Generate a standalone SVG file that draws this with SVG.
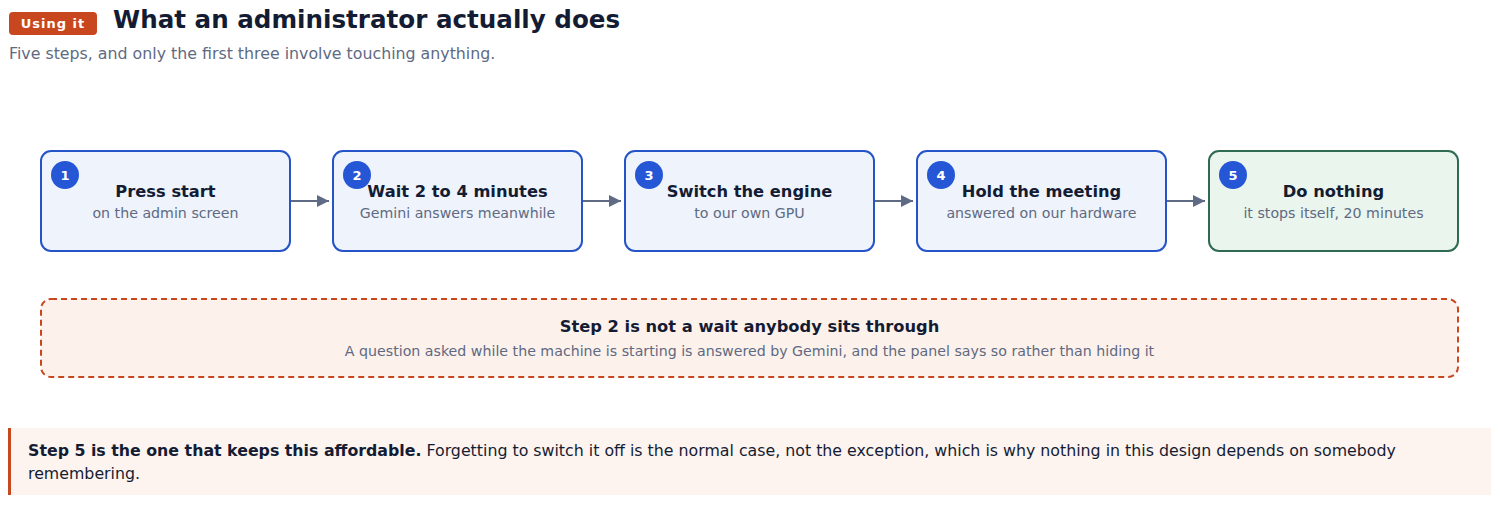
<svg xmlns="http://www.w3.org/2000/svg" width="1500" height="505" viewBox="0 0 1500 505">
<defs>
<style>
text{font-family:"DejaVu Sans","Noto Sans",sans-serif}
.step{fill:#eef3fc;stroke:#2454c8;stroke-width:2}
.done{fill:#eaf5ee;stroke:#2f6a52;stroke-width:2}
.num{fill:#2456d6}
.numt{fill:#fff;font-size:13px;font-weight:bold;text-anchor:middle}
.t{fill:#141c33;font-size:16.3px;font-weight:bold;text-anchor:middle}
.s{fill:#5e6a82;font-size:14.2px;text-anchor:middle}
.conn{stroke:#5f6b85;stroke-width:2;fill:none}
</style>
<marker id="ah" viewBox="0 0 10 10" refX="10" refY="5" markerWidth="12" markerHeight="12" markerUnits="userSpaceOnUse" orient="auto">
<path d="M0,0 L10,5 L0,10 z" fill="#5f6b85"/>
</marker>
</defs>
<rect width="1500" height="505" fill="#fff"/>
<g id="header">
<rect x="9" y="12" width="88" height="23" rx="4" fill="#c8471f"/>
<text x="53" y="28" fill="#fff" font-size="13" font-weight="bold" text-anchor="middle" letter-spacing="1">Using it</text>
<text x="113" y="28" fill="#141c33" font-size="24.6" font-weight="bold">What an administrator actually does</text>
<text x="9" y="59" fill="#5e6a82" font-size="15.8">Five steps, and only the first three involve touching anything.</text>
</g>
<g id="connectors">
<line class="conn" x1="291" y1="201" x2="329" y2="201" marker-end="url(#ah)"/>
<line class="conn" x1="583" y1="201" x2="621" y2="201" marker-end="url(#ah)"/>
<line class="conn" x1="875" y1="201" x2="913" y2="201" marker-end="url(#ah)"/>
<line class="conn" x1="1167" y1="201" x2="1205" y2="201" marker-end="url(#ah)"/>
</g>
<g id="step1">
<rect class="step" x="41" y="151" width="249" height="100" rx="10"/>
<circle class="num" cx="65" cy="175" r="14"/>
<text class="numt" x="65" y="180">1</text>
<text class="t" x="165.5" y="197">Press start</text>
<text class="s" x="165.5" y="218">on the admin screen</text>
</g>
<g id="step2">
<rect class="step" x="333" y="151" width="249" height="100" rx="10"/>
<circle class="num" cx="357" cy="175" r="14"/>
<text class="numt" x="357" y="180">2</text>
<text class="t" x="457.5" y="197">Wait 2 to 4 minutes</text>
<text class="s" x="457.5" y="218">Gemini answers meanwhile</text>
</g>
<g id="step3">
<rect class="step" x="625" y="151" width="249" height="100" rx="10"/>
<circle class="num" cx="649" cy="175" r="14"/>
<text class="numt" x="649" y="180">3</text>
<text class="t" x="749.5" y="197">Switch the engine</text>
<text class="s" x="749.5" y="218">to our own GPU</text>
</g>
<g id="step4">
<rect class="step" x="917" y="151" width="249" height="100" rx="10"/>
<circle class="num" cx="941" cy="175" r="14"/>
<text class="numt" x="941" y="180">4</text>
<text class="t" x="1041.5" y="197">Hold the meeting</text>
<text class="s" x="1041.5" y="218">answered on our hardware</text>
</g>
<g id="step5">
<rect class="done" x="1209" y="151" width="249" height="100" rx="10"/>
<circle class="num" cx="1233" cy="175" r="14"/>
<text class="numt" x="1233" y="180">5</text>
<text class="t" x="1333.5" y="197">Do nothing</text>
<text class="s" x="1333.5" y="218">it stops itself, 20 minutes</text>
</g>
<g id="note">
<rect x="41" y="299" width="1417" height="78" rx="10" fill="#fdf1ec" stroke="#c8471f" stroke-width="2" stroke-dasharray="6 4"/>
<text class="t" x="749.5" y="332">Step 2 is not a wait anybody sits through</text>
<text class="s" x="749.5" y="356">A question asked while the machine is starting is answered by Gemini, and the panel says so rather than hiding it</text>
</g>
<g id="callout">
<rect x="8" y="428" width="1483" height="67" fill="#fdf3ef"/>
<rect x="8" y="428" width="3" height="67" fill="#c8471f"/>
<text x="28" y="456" fill="#141c33" font-size="15.8"><tspan font-weight="bold">Step 5 is the one that keeps this affordable.</tspan> Forgetting to switch it off is the normal case, not the exception, which is why nothing in this design depends on somebody</text>
<text x="28" y="479" fill="#141c33" font-size="15.8">remembering.</text>
</g>
</svg>
